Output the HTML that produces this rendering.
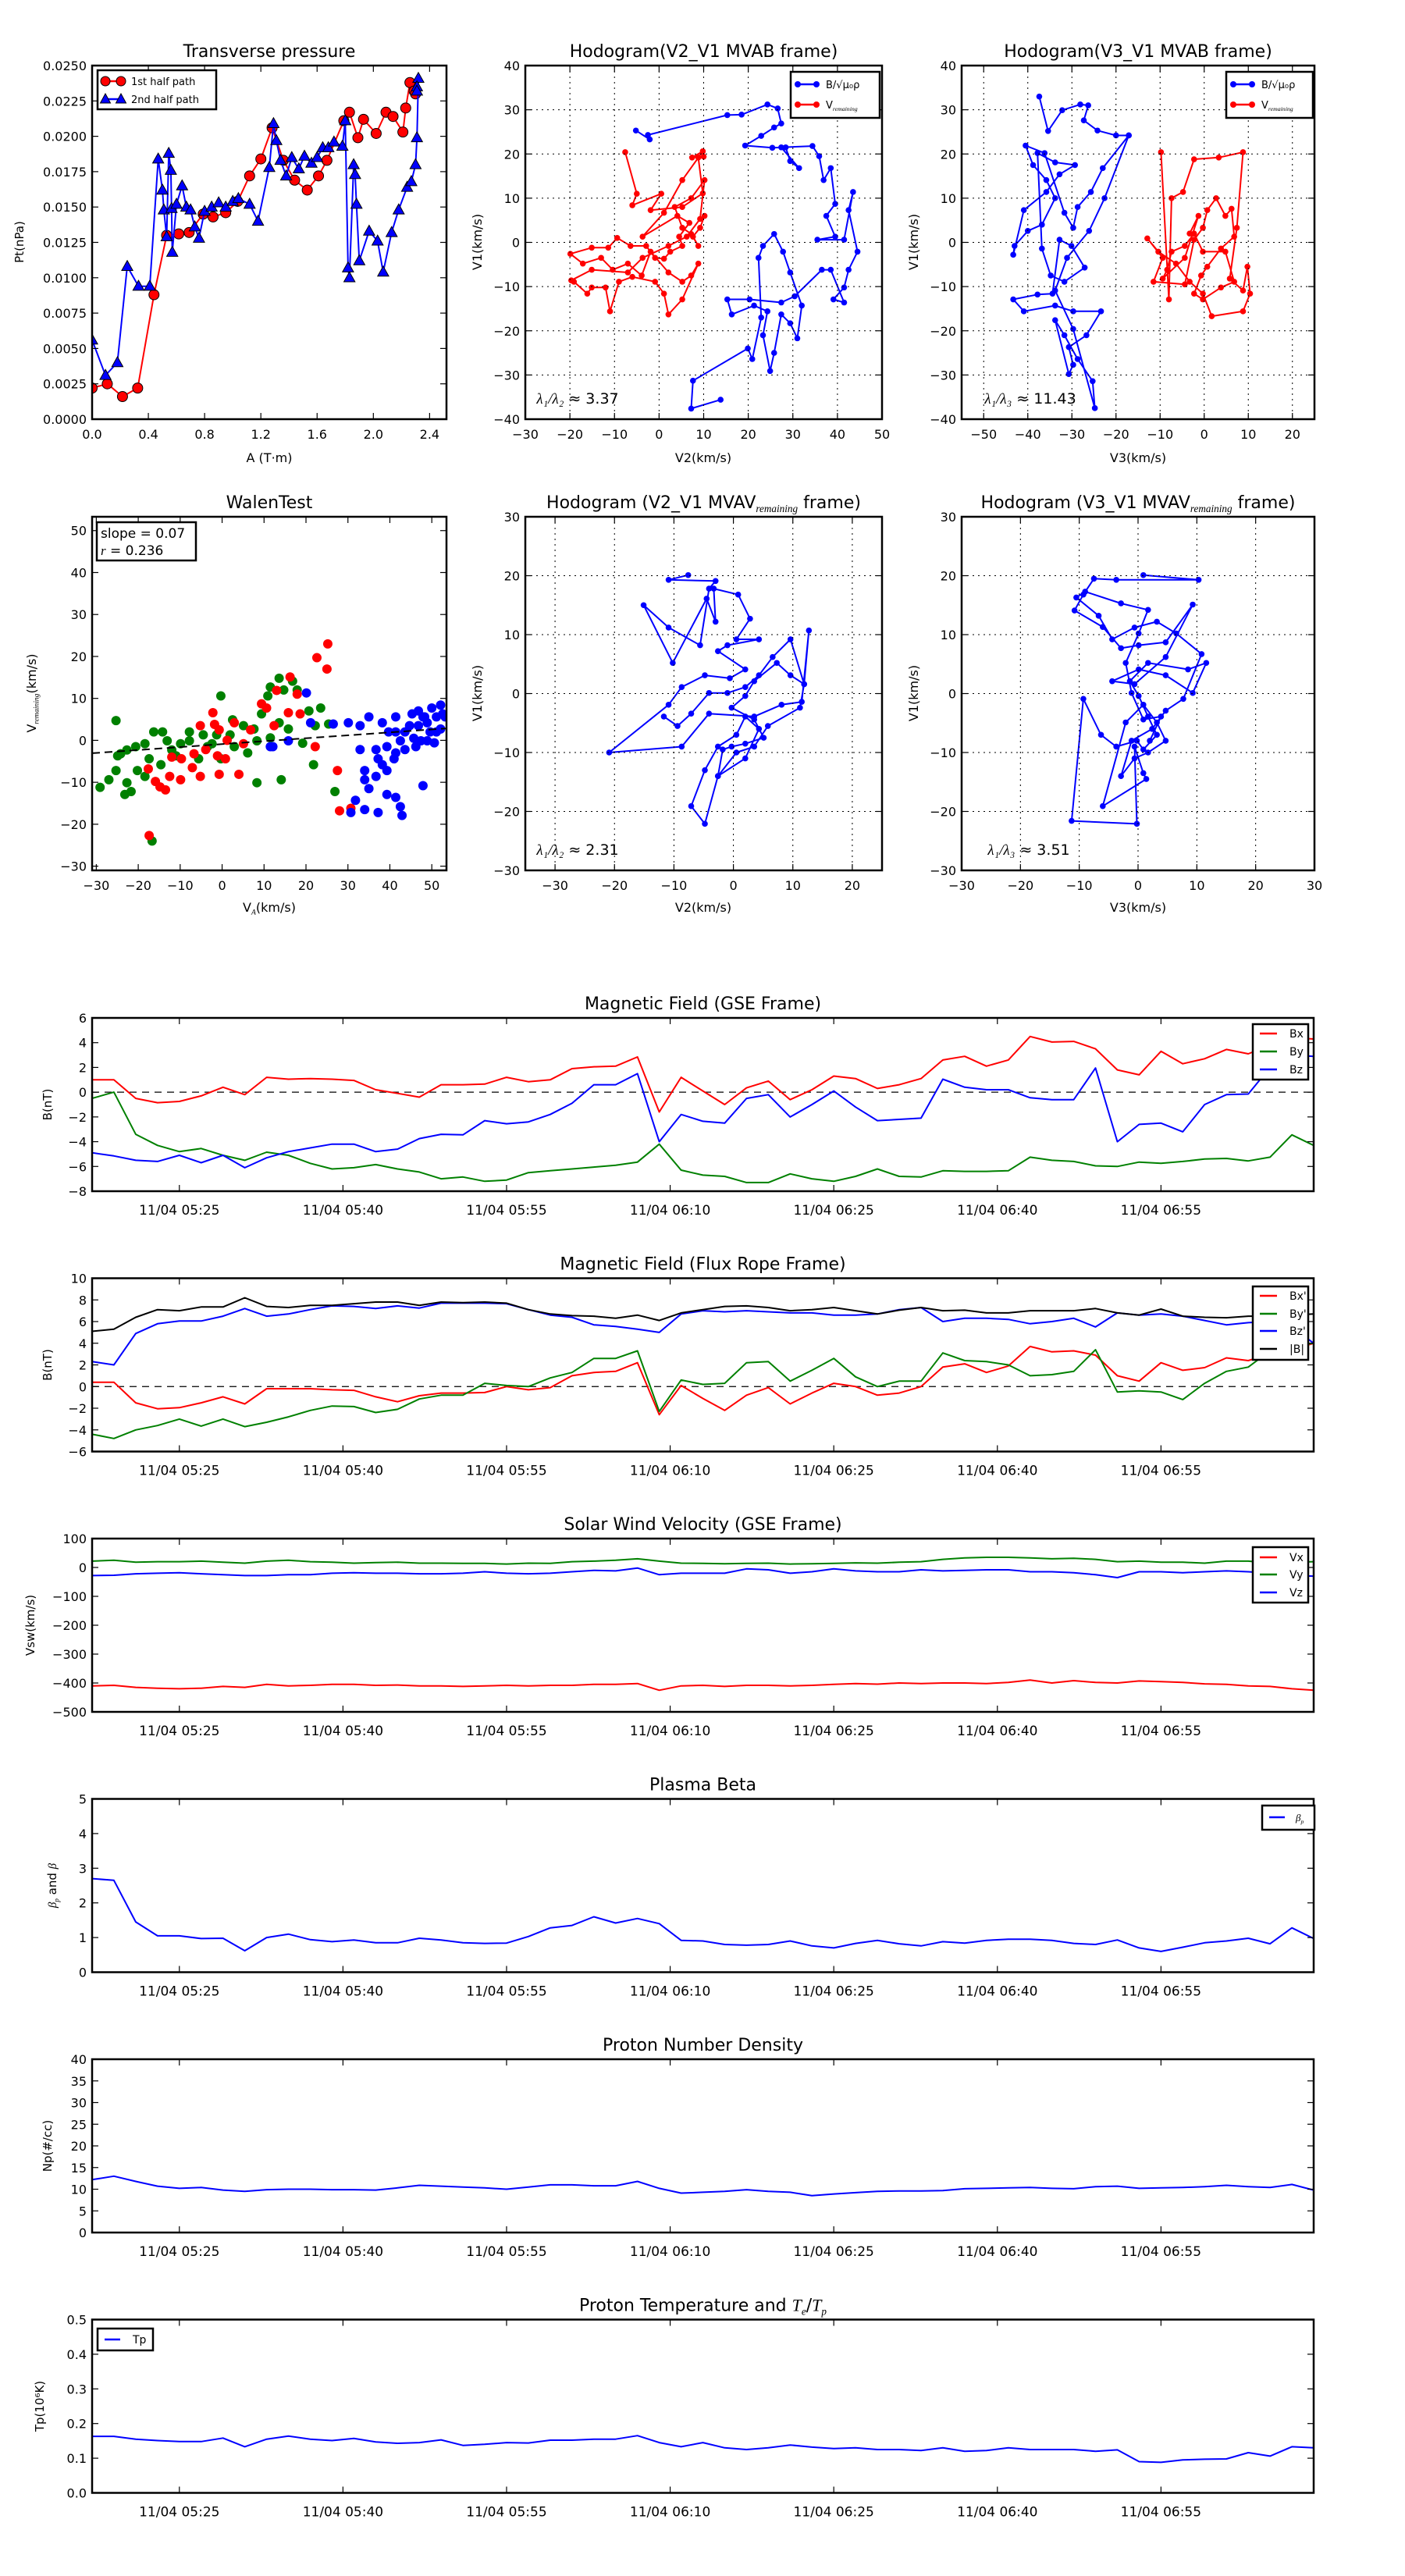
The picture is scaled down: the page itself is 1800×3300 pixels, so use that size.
<!DOCTYPE html>
<html><head><meta charset="utf-8"><title>Flux rope analysis</title>
<style>
html,body{margin:0;padding:0;background:#fff;}
svg{display:block;font-family:"DejaVu Sans","Liberation Sans",sans-serif;}
</style></head>
<body>
<svg id="fig" width="1800" height="3300" viewBox="0 0 1800 3300" xmlns="http://www.w3.org/2000/svg">
<rect x="0" y="0" width="1800" height="3300" fill="#fff"/>
<defs id="defs"></defs>
</svg>
<script>
// ---------- Data ----------
// Transverse pressure
const ptRedA=[0,0.108,0.216,0.324,0.44,0.53,0.616,0.69,0.79,0.86,0.95,1.035,1.12,1.2,1.28,1.36,1.44,1.53,1.61,1.67,1.79,1.83,1.89,1.93,2.02,2.09,2.14,2.21,2.23,2.26,2.29,2.30];
const ptRedP=[0.0022,0.0025,0.0016,0.0022,0.0088,0.0130,0.0131,0.0132,0.0145,0.0143,0.0146,0.0154,0.0172,0.0184,0.0206,0.0183,0.0169,0.0162,0.0172,0.0183,0.0211,0.0217,0.0199,0.0212,0.0202,0.0217,0.0214,0.0203,0.0220,0.0238,0.0232,0.0230];
const ptBlueA=[0,0.095,0.18,0.25,0.33,0.41,0.47,0.50,0.51,0.53,0.545,0.56,0.565,0.57,0.60,0.64,0.67,0.70,0.73,0.76,0.80,0.85,0.90,0.95,1.00,1.04,1.12,1.18,1.26,1.29,1.31,1.34,1.38,1.42,1.47,1.51,1.56,1.60,1.64,1.68,1.72,1.78,1.80,1.82,1.83,1.86,1.87,1.88,1.90,1.97,2.03,2.07,2.13,2.18,2.24,2.27,2.30,2.31,2.32,2.31,2.31];
const ptBlueP=[0.0056,0.0031,0.0040,0.0108,0.0094,0.0094,0.0184,0.0162,0.0148,0.0129,0.0188,0.0176,0.0149,0.0118,0.0152,0.0165,0.0150,0.0148,0.0136,0.0128,0.0147,0.0150,0.0153,0.0150,0.0154,0.0156,0.0152,0.0140,0.0178,0.0209,0.0197,0.0183,0.0172,0.0185,0.0177,0.0186,0.0181,0.0185,0.0192,0.0192,0.0196,0.0193,0.0211,0.0107,0.0100,0.0180,0.0173,0.0152,0.0112,0.0133,0.0126,0.0104,0.0132,0.0148,0.0164,0.0168,0.0180,0.0199,0.0241,0.0235,0.0232];
// Hodogram V2-V1 MVAB
const h1RedV2=[-7.6,-5.0,-6.0,0.5,-1.9,5.2,9.8,8.8,10.0,7.4,9.8,5.2,1.1,-3.7,4.1,6.8,4.5,5.2,2.5,1.1,-0.9,-2.9,-6.4,-9.4,-11.4,-15.1,-19.9,-17.1,-13.0,-10.4,-7.0,-3.9,-1.9,2.1,5.2,7.2,8.8,5.2,2.1,1.1,-0.9,-6.0,-9.0,-11.0,-12.0,-15.1,-16.1,-19.1,-19.7,-15.1,-7.0,-3.7,2.1,6.2,9.2,10.2,7.2,3.5,5.2,7.2,8.8,7.6,9.2,10.2];
const h1RedV1=[20.4,11.0,8.4,11.0,7.3,8.0,11.1,19.2,19.4,19.2,20.6,14.1,6.7,1.3,6.0,4.4,1.3,-0.8,-2.1,-3.7,-3.5,-0.8,-0.8,1.0,-1.2,-1.2,-2.6,-4.8,-3.5,-6.2,-4.8,-7.5,-2.1,-6.8,-8.9,-7.5,-4.8,-12.9,-16.3,-11.6,-8.9,-7.8,-8.9,-15.6,-10.2,-10.2,-11.6,-8.9,-8.6,-6.2,-6.8,-3.5,-0.8,1.3,5.3,14.1,10.0,8.0,3.3,1.9,-0.8,1.3,3.3,6.0];
const h1BlueV2=[-5.2,-2.1,-2.5,15.3,18.5,24.3,26.6,27.4,25.8,22.9,19.3,25.4,28.4,29.4,31.4,27.4,34.4,35.9,36.9,38.5,39.5,37.5,39.5,35.5,41.5,43.5,42.5,44.5,42.5,41.5,39.1,41.5,38.5,36.5,30.4,27.4,20.3,15.3,16.3,21.3,24.3,23.3,24.9,25.8,27.4,29.4,31.0,32.0,29.4,27.8,25.8,23.3,22.3,22.9,20.9,19.9,7.6,7.2,13.8];
const h1BlueV1=[25.3,23.3,24.3,28.8,28.9,31.2,30.3,26.9,26.0,24.1,21.9,21.4,21.5,18.4,16.8,21.5,21.8,19.5,14.1,16.8,8.7,6.0,1.3,0.6,0.6,11.4,7.3,-2.1,-6.2,-10.2,-12.9,-13.6,-6.2,-6.2,-12.2,-13.6,-12.9,-12.9,-16.3,-14.3,-15.6,-21.0,-29.1,-25.0,-16.3,-18.3,-21.7,-14.3,-6.8,-2.1,1.9,-0.8,-3.5,-17.0,-26.4,-24.0,-31.3,-37.6,-35.6];
// Hodogram V3-V1 MVAB
const h2BlueV3=[-37.4,-35.4,-32.2,-28.1,-26.3,-27.3,-24.2,-20.0,-17.1,-23.0,-25.7,-28.7,-29.7,-31.7,-36.2,-40.5,-38.8,-35.8,-33.8,-36.8,-40.0,-43.0,-43.3,-40.9,-35.8,-32.8,-29.3,-33.8,-37.8,-36.8,-34.8,-31.7,-27.1,-30.1,-32.8,-34.4,-37.8,-43.3,-40.9,-33.8,-29.7,-23.4,-26.7,-30.7,-29.7,-30.7,-33.8,-31.7,-28.7,-25.3,-24.8,-29.7,-33.8,-31.1,-26.1,-22.6,-17.1];
const h2BlueV1=[33.0,25.2,29.9,31.2,31.0,27.6,25.3,24.2,24.2,16.8,11.4,8.0,3.3,6.7,20.2,21.9,17.5,14.1,10.0,4.0,2.6,-0.8,-2.8,7.3,11.4,15.4,17.5,18.1,20.2,-1.4,-7.5,-8.9,-5.7,-0.8,0.6,-11.6,-11.8,-12.9,-15.6,-14.3,-15.6,-15.6,-21.0,-23.7,-27.7,-29.8,-17.6,-21.0,-26.4,-31.4,-37.5,-19.6,-10.9,-3.5,2.6,10.0,24.2];
const h2RedV3=[-9.8,-8.0,-7.4,-4.8,-2.3,3.3,8.8,7.4,5.8,8.8,9.8,10.4,8.8,1.7,-0.3,-3.3,-6.4,-10.4,-12.9,-9.4,-11.5,-4.4,-2.3,-0.3,0.7,2.7,4.8,6.2,6.8,3.8,0.7,-0.7,-2.3,-0.3,3.8,6.8,4.8,-0.3,-2.3,-4.4,-7.4,-8.4,-9.4,-4.4,-1.3,-3.3];
const h2RedV1=[20.4,-12.9,10.0,11.4,18.8,19.2,20.4,3.3,-8.2,-10.9,-5.5,-11.6,-15.6,-16.7,-11.6,-8.9,-4.8,-2.1,0.9,-3.5,-8.9,-9.5,0.6,3.3,7.3,10.0,6.0,7.6,1.3,-1.4,-5.5,-7.5,-11.6,-12.9,-10.2,-8.9,-2.1,-2.1,2.0,-0.8,-2.1,-6.2,-8.2,-3.5,6.0,2.0];
// Walen test
const walenRedVA=[25.2,22.6,25.0,16.2,13.0,17.9,9.4,15.8,-2.2,-5.2,-0.7,2.9,6.8,-3.9,-6.7,-1.1,-9.7,-12.0,-7.1,-0.7,4.0,-5.2,-12.5,-15.9,-13.5,-14.8,-17.6,-9.9,27.5,28.0,30.7,-17.4,-1.8,1.2,10.6,12.4,18.6,22.2,5.1,0.8];
const walenRedV=[23.0,19.7,17.0,15.1,11.9,11.0,8.7,6.6,6.6,3.5,2.5,4.2,2.5,-2.2,-3.2,-3.7,-4.4,-4.0,-6.5,-8.1,-8.1,-8.6,-8.6,-9.8,-11.8,-11.1,-6.8,-9.4,-7.2,-16.8,-16.2,-22.7,3.8,0.0,7.7,3.5,6.3,-1.5,-0.8,-4.4];
const walenGreenVA=[-25.3,-24.9,-24.2,-25.3,-27.0,-29.1,-22.7,-23.2,-21.7,-20.2,-18.4,-16.3,-14.2,-13.1,-11.0,-9.9,-7.8,-4.5,-0.3,-1.3,1.9,2.5,5.1,7.6,9.4,10.9,11.5,13.6,14.7,16.8,17.9,20.7,23.5,25.4,22.2,19.2,21.8,14.1,8.3,26.9,-16.7,-14.6,-17.4,-20.6,-18.4,-7.8,-3.5,-5.6,-0.3,2.9,6.1,11.5,8.3,13.6,15.8,-22.7,-12.0,-2.4];
const walenGreenV=[4.7,-3.7,-3.2,-7.2,-9.4,-11.2,-10.1,-12.9,-12.2,-7.2,-0.8,2.0,2.0,-0.1,-3.7,-0.8,2.0,1.3,10.6,1.3,1.3,4.9,3.5,2.7,6.3,10.6,12.7,14.8,12.0,14.1,12.0,7.0,7.7,3.9,3.5,-0.7,-5.8,-9.4,-10.1,-12.2,-24.0,-5.8,-4.4,-1.5,-8.6,-0.1,-1.5,-4.4,-4.4,-1.5,-3.0,0.6,-0.1,4.2,2.7,-2.3,-2.3,-0.8];
const walenBlueVA=[20.1,12.1,15.8,21.1,26.5,30.1,32.9,35.0,38.2,39.7,41.4,43.6,45.3,46.8,48.3,50.0,52.1,53.2,51.1,48.9,46.2,43.6,41.4,39.3,37.2,38.2,39.3,36.7,34.0,34.0,35.0,39.3,41.4,42.5,42.9,47.9,47.4,50.6,52.1,49.6,45.7,44.7,48.9,51.1,46.8,42.5,41.0,36.7,32.9,31.8,34.0,37.2,30.7,11.5,41.4,52.6,47.9];
const walenBlueV=[11.3,-1.5,-0.1,4.2,3.9,4.2,3.5,5.6,4.2,2.0,5.6,2.0,6.3,7.0,5.6,7.7,8.4,5.6,2.0,-0.1,-1.5,-2.2,-3.0,-1.5,-4.4,-5.8,-7.2,-8.6,-7.2,-9.4,-11.5,-12.9,-13.6,-15.8,-17.9,-10.8,-0.1,-0.6,2.7,2.0,0.5,3.5,4.2,5.6,3.5,-0.1,-4.4,-2.2,-2.2,-14.3,-16.5,-17.2,-17.2,-1.5,2.0,6.3,5.6];
const walenSlope=0.07, walenIntercept=-0.9;
// MVAV hodograms
const h3V2=[-7.6,-10.9,-3.0,-4.1,-5.6,-10.9,-15.1,-10.2,-4.5,-3.0,-3.3,0.8,2.8,0.5,4.3,-1.0,-2.6,2.0,-0.6,-4.8,-8.7,-10.9,-20.9,-8.7,-4.1,3.5,8.1,11.5,12.7,11.9,9.6,7.3,3.5,2.0,-0.3,3.5,5.1,2.0,-0.3,-1.8,-2.6,2.0,4.3,2.0,0.5,-2.6,-4.8,-7.1,-4.8,-2.6,0.5,3.5,5.8,11.2,11.9,9.6,6.6,4.3,2.0,-1.0,-4.1,-7.1,-9.4,-11.7];
const h3V1=[20.1,19.3,19.1,17.8,8.2,11.2,15.0,5.2,16.1,12.2,17.8,16.8,12.7,9.2,9.2,8.2,7.2,4.1,2.6,3.1,1.1,-1.9,-10.0,-9.0,-3.4,-3.9,-1.9,-1.4,10.7,1.6,3.1,5.2,2.1,-0.4,-2.4,-4.4,-7.5,-8.5,-9.0,-9.5,-14.0,-11.0,-6.0,-3.9,-7.0,-9.0,-13.0,-19.1,-22.1,-14.0,-10.0,-9.0,-5.5,-2.4,1.6,9.2,6.2,3.1,1.1,0.1,0.1,-3.4,-5.5,-3.9];
const h4V3=[0.9,10.3,-3.7,-7.5,-9.3,-10.8,-6.0,-2.9,0.1,4.7,9.3,4.7,-0.6,-4.4,0.1,4.7,9.3,11.6,8.5,1.7,-1.4,0.1,1.7,3.2,0.9,-0.2,-3.7,-6.3,-9.3,-11.3,-0.2,-0.6,0.9,1.4,-6.0,-2.1,0.9,3.2,4.7,1.7,-0.6,-2.9,-1.1,2.4,4.7,7.7,10.8,6.5,3.2,-0.6,-4.4,-6.7,-10.5,-9.0,-2.9,1.7,0.1,-2.1,-1.1,0.9,3.9,2.0];
const h4V1=[20.1,19.3,19.3,19.5,16.8,14.1,11.3,7.7,8.2,8.7,15.1,6.2,1.6,2.1,4.1,3.1,0.1,5.2,4.1,5.2,2.1,-0.4,-3.9,-7.0,-9.5,-8.0,-9.0,-7.0,-0.9,-21.6,-22.1,-9.0,-13.5,-14.5,-19.1,-4.9,-1.9,-4.9,-8.0,-10.0,-11.0,-14.0,-8.0,-6.0,-2.9,-0.9,6.7,10.2,12.2,11.2,9.2,13.2,16.3,17.3,15.3,14.2,10.2,5.2,0.1,-4.4,-3.9,-8.0];
// Time series: minutes after 05:17
const minutes=[0,2,4,6,8,10,12,14,16,18,20,22,24,26,28,30,32,34,36,38,40,42,44,46,48,50,52,54,56,58,60,62,64,66,68,70,72,74,76,78,80,82,84,86,88,90,92,94,96,98,100,102,104,106,108,110,112];
const timeTicks=[8,23,38,53,68,83,98];
const timeTickLabels=['11/04 05:25','11/04 05:40','11/04 05:55','11/04 06:10','11/04 06:25','11/04 06:40','11/04 06:55'];
const gseBx=[1.0,1.0,-0.5,-0.85,-0.75,-0.3,0.4,-0.2,1.2,1.05,1.1,1.05,0.95,0.2,-0.1,-0.4,0.6,0.6,0.65,1.2,0.85,1.0,1.9,2.05,2.1,2.85,-1.6,1.2,0.1,-1.0,0.35,0.9,-0.6,0.2,1.3,1.1,0.3,0.6,1.1,2.6,2.9,2.1,2.6,4.5,4.05,4.1,3.5,1.8,1.4,3.3,2.3,2.7,3.45,3.1,3.8,4.4,4.3];
const gseBy=[-0.5,0,-3.4,-4.3,-4.8,-4.55,-5.1,-5.5,-4.85,-5.1,-5.75,-6.2,-6.1,-5.85,-6.2,-6.45,-7.0,-6.85,-7.2,-7.1,-6.5,-6.35,-6.2,-6.05,-5.9,-5.65,-4.2,-6.3,-6.7,-6.8,-7.3,-7.3,-6.6,-7.0,-7.2,-6.8,-6.2,-6.8,-6.85,-6.35,-6.4,-6.4,-6.35,-5.25,-5.5,-5.6,-5.95,-6.0,-5.65,-5.75,-5.6,-5.4,-5.35,-5.55,-5.25,-3.45,-4.3];
const gseBz=[-4.9,-5.15,-5.5,-5.6,-5.1,-5.7,-5.1,-6.1,-5.3,-4.8,-4.5,-4.2,-4.2,-4.8,-4.6,-3.75,-3.4,-3.45,-2.3,-2.55,-2.4,-1.8,-0.9,0.6,0.6,1.5,-4.0,-1.8,-2.35,-2.5,-0.5,-0.2,-2.0,-1.0,0.1,-1.2,-2.3,-2.2,-2.1,1.05,0.4,0.2,0.2,-0.45,-0.6,-0.6,1.95,-4.0,-2.6,-2.5,-3.2,-1.0,-0.2,-0.15,2.0,3.0,2.9];
const frBx=[0.4,0.4,-1.5,-2.05,-1.95,-1.5,-0.95,-1.6,-0.2,-0.2,-0.2,-0.3,-0.35,-0.95,-1.4,-0.85,-0.6,-0.6,-0.55,0,-0.3,-0.1,1.0,1.3,1.4,2.2,-2.6,0.1,-1.1,-2.2,-0.8,-0.1,-1.6,-0.6,0.3,0,-0.8,-0.6,0,1.8,2.1,1.3,1.9,3.7,3.2,3.3,2.9,1.0,0.5,2.2,1.5,1.75,2.65,2.4,3.0,3.4,4.0];
const frBy=[-4.4,-4.8,-4.0,-3.6,-3.0,-3.65,-3.0,-3.7,-3.3,-2.8,-2.2,-1.8,-1.85,-2.4,-2.1,-1.15,-0.8,-0.8,0.3,0.1,0,0.8,1.3,2.6,2.6,3.3,-2.3,0.6,0.2,0.3,2.2,2.3,0.5,1.5,2.6,0.9,0,0.5,0.5,3.1,2.4,2.3,2.0,1.0,1.1,1.4,3.4,-0.5,-0.4,-0.5,-1.2,0.3,1.4,1.8,3.3,3.8,4.0];
const frBz=[2.3,2.0,4.9,5.8,6.05,6.05,6.5,7.2,6.5,6.7,7.1,7.45,7.4,7.2,7.45,7.25,7.7,7.7,7.7,7.65,7.1,6.6,6.4,5.7,5.55,5.3,5.0,6.7,7.0,6.9,7.0,6.9,6.8,6.8,6.6,6.6,6.7,7.1,7.3,6.0,6.3,6.3,6.2,5.8,6.0,6.3,5.5,6.8,6.6,6.7,6.5,6.1,5.7,5.9,6.0,5.5,4.0];
const frBt=[5.1,5.3,6.4,7.1,7.0,7.35,7.35,8.2,7.4,7.3,7.5,7.5,7.65,7.8,7.8,7.5,7.8,7.75,7.8,7.7,7.1,6.7,6.55,6.5,6.3,6.6,6.1,6.8,7.1,7.4,7.45,7.3,7.0,7.1,7.3,7.0,6.7,7.05,7.3,7.0,7.05,6.8,6.8,7.0,7.0,7.0,7.2,6.8,6.6,7.15,6.5,6.4,6.35,6.5,6.5,6.6,6.7];
const vswX=[-410,-408,-415,-418,-420,-418,-412,-415,-405,-410,-408,-405,-405,-408,-407,-410,-410,-412,-410,-408,-410,-408,-408,-405,-405,-402,-425,-410,-408,-412,-408,-408,-410,-408,-405,-402,-404,-400,-402,-400,-400,-402,-398,-390,-400,-392,-398,-400,-393,-395,-398,-403,-405,-410,-412,-420,-425];
const vswY=[22,25,18,20,20,22,18,15,22,25,20,18,15,17,18,15,15,14,14,12,15,14,20,22,25,30,22,15,14,13,14,15,12,13,14,16,15,18,20,28,33,35,35,33,30,32,28,20,22,18,18,15,22,22,15,18,20];
const vswZ=[-28,-27,-22,-20,-18,-22,-25,-28,-28,-25,-25,-20,-18,-20,-20,-22,-22,-20,-15,-20,-22,-20,-15,-10,-12,-2,-25,-20,-20,-20,-5,-8,-20,-15,-5,-12,-15,-15,-8,-12,-10,-8,-8,-15,-15,-18,-25,-35,-15,-15,-18,-15,-12,-15,-20,-28,-30];
const betaP=[2.7,2.65,1.45,1.05,1.05,0.97,0.98,0.62,1.0,1.1,0.94,0.88,0.93,0.85,0.85,0.98,0.93,0.85,0.83,0.84,1.03,1.28,1.35,1.6,1.42,1.55,1.4,0.92,0.9,0.8,0.78,0.8,0.9,0.76,0.7,0.83,0.92,0.82,0.76,0.88,0.84,0.92,0.95,0.95,0.92,0.83,0.8,0.93,0.7,0.6,0.72,0.85,0.9,0.98,0.82,1.28,0.97];
const densNp=[12.2,13.0,11.8,10.7,10.2,10.4,9.8,9.5,9.9,10.0,10.0,9.9,9.9,9.8,10.3,10.9,10.7,10.5,10.3,10.0,10.5,11.0,11.0,10.8,10.8,11.8,10.2,9.1,9.3,9.5,9.9,9.5,9.3,8.5,8.9,9.2,9.5,9.6,9.6,9.7,10.1,10.2,10.3,10.4,10.2,10.1,10.6,10.7,10.2,10.3,10.4,10.6,10.9,10.6,10.4,11.1,9.8];
const tempTp=[0.163,0.163,0.155,0.151,0.148,0.148,0.158,0.133,0.155,0.164,0.155,0.151,0.157,0.147,0.143,0.145,0.153,0.137,0.14,0.145,0.144,0.152,0.152,0.155,0.155,0.165,0.145,0.133,0.145,0.13,0.125,0.13,0.138,0.132,0.128,0.13,0.125,0.125,0.122,0.13,0.12,0.122,0.13,0.125,0.125,0.125,0.12,0.124,0.09,0.088,0.095,0.097,0.098,0.116,0.106,0.133,0.13];

// ---------- Helpers ----------
const NS='http://www.w3.org/2000/svg';
const svg=document.getElementById('fig');
const defs=document.getElementById('defs');
const MINUS='\u2212';
function mk(tag,attrs,parent){const e=document.createElementNS(NS,tag);for(const k in attrs)e.setAttribute(k,attrs[k]);(parent||svg).appendChild(e);return e;}
function fmt(v,d){const s=Math.abs(v).toFixed(d);return (v<-1e-12?MINUS:'')+s;}
function range(a,b,s){const r=[];for(let v=a;v<=b+s*1e-6;v+=s)r.push(Math.round(v/s)*s);return r;}
let clipId=0;
function panel(name,x0,y0,w,h,xd,yd){
  const g=mk('g',{});
  
  
  const id='clip'+(clipId++);
  const cp=mk('clipPath',{id:id},defs);
  mk('rect',{x:x0,y:y0,width:w,height:h},cp);
  const data=mk('g',{'clip-path':'url(#'+id+')'},g);
  
  
  return {g,data,x0,y0,w,h,sx:v=>x0+(v-xd[0])/(xd[1]-xd[0])*w,sy:v=>y0+h-(v-yd[0])/(yd[1]-yd[0])*h};
}
function axes(p,xt,xl,yt,yl,grid,xfs){
  const ax=mk('g',{},p.g);
  
  
  xt.forEach((v,i)=>{const x=p.sx(v);
    if(grid){const gl=mk('line',{x1:x,x2:x,y1:p.y0,y2:p.y0+p.h,stroke:'#000','stroke-width':1,'stroke-dasharray':'2,5'},ax);}
    mk('line',{x1:x,x2:x,y1:p.y0,y2:p.y0+8,stroke:'#000','stroke-width':1.2},ax);
    mk('line',{x1:x,x2:x,y1:p.y0+p.h,y2:p.y0+p.h-8,stroke:'#000','stroke-width':1.2},ax);
    const t=mk('text',{x:x,y:p.y0+p.h+(xfs?30:25),'font-size':xfs||16,'text-anchor':'middle',fill:'#000'},ax);
    t.textContent=xl[i];
    
    
  });
  yt.forEach((v,i)=>{const y=p.sy(v);
    if(grid){const gl=mk('line',{x1:p.x0,x2:p.x0+p.w,y1:y,y2:y,stroke:'#000','stroke-width':1,'stroke-dasharray':'2,5'},ax);}
    mk('line',{x1:p.x0,x2:p.x0+8,y1:y,y2:y,stroke:'#000','stroke-width':1.2},ax);
    mk('line',{x1:p.x0+p.w,x2:p.x0+p.w-8,y1:y,y2:y,stroke:'#000','stroke-width':1.2},ax);
    const t=mk('text',{x:p.x0-7,y:y+6,'font-size':16,'text-anchor':'end',fill:'#000'},ax);
    t.textContent=yl[i];
    
    
  });
}
function frame(p){const r=mk('rect',{x:p.x0,y:p.y0,width:p.w,height:p.h,fill:'none',stroke:'#000','stroke-width':2.5},p.g);
  
  }
function title(p,parts,fs){const t=mk('text',{x:p.x0+p.w/2,y:p.y0-11,'font-size':fs||22,'text-anchor':'middle',fill:'#000'},p.g);
  addParts(t,parts,fs||22);
  
  }
function addParts(t,parts,fs){parts.forEach(pt=>{const s=mk('tspan',{},t);s.textContent=pt.t;
  if(pt.sub){s.setAttribute('font-size',fs*0.6);s.setAttribute('font-style','italic');s.setAttribute('font-family','"Liberation Serif",serif');s.setAttribute('dy',fs*0.22);}
  else if(pt.after){s.setAttribute('dy',-fs*0.22);}
  if(pt.it){s.setAttribute('font-style','italic');s.setAttribute('font-family','"Liberation Serif",serif');}});}
function label(x,y,parts,fs,rot,name){const t=mk('text',{x:x,y:y,'font-size':fs,'text-anchor':'middle',fill:'#000'});
  if(rot)t.setAttribute('transform','rotate(-90 '+x+' '+y+')');
  addParts(t,parts,fs);
  
  return t;}
function series(p,xs,ys,color,w,name,marker,r){
  let d='';xs.forEach((x,i)=>{d+=(i?'L':'M')+p.sx(x).toFixed(1)+' '+p.sy(ys[i]).toFixed(1);});
  const path=mk('path',{d:d,fill:'none',stroke:color,'stroke-width':w,'stroke-linejoin':'round'},p.data);
  
  
  if(marker){xs.forEach((x,i)=>{
    const cx=p.sx(x),cy=p.sy(ys[i]);let m;
    if(marker==='tri'){m=mk('polygon',{points:cx+','+(cy-r)+' '+(cx-r*0.95)+','+(cy+r*0.7)+' '+(cx+r*0.95)+','+(cy+r*0.7),fill:color,stroke:'#000','stroke-width':1},p.data);}
    else if(marker==='circ'){m=mk('circle',{cx:cx,cy:cy,r:r,fill:color,stroke:'#000','stroke-width':1},p.data);}
    else {m=mk('circle',{cx:cx,cy:cy,r:r,fill:color},p.data);}
    
    });}
}
function scatter(p,xs,ys,color,name){xs.forEach((x,i)=>{const c=mk('circle',{cx:p.sx(x),cy:p.sy(ys[i]),r:6,fill:color},p.data);
  
  });}
function legend(x,y,w,h,entries,fs,lx1,lx2,tx,rowY,name){
  const g=mk('g',{});
  
  
  mk('rect',{x:x,y:y,width:w,height:h,fill:'#fff',stroke:'#000','stroke-width':2.5},g);
  entries.forEach((e,i)=>{const yy=rowY[i];
    const eg=mk('g',{},g);
    
    
    mk('line',{x1:lx1,x2:lx2,y1:yy,y2:yy,stroke:e.c,'stroke-width':2.5},eg);
    if(e.m==='circ'){mk('circle',{cx:lx1,cy:yy,r:6,fill:e.c,stroke:'#000'},eg);mk('circle',{cx:lx2,cy:yy,r:6,fill:e.c,stroke:'#000'},eg);}
    if(e.m==='tri'){[lx1,lx2].forEach(cx=>mk('polygon',{points:cx+','+(yy-7)+' '+(cx-6.5)+','+(yy+5)+' '+(cx+6.5)+','+(yy+5),fill:e.c,stroke:'#000'},eg));}
    if(e.m==='dot'){mk('circle',{cx:lx1,cy:yy,r:4,fill:e.c},eg);mk('circle',{cx:lx2,cy:yy,r:4,fill:e.c},eg);}
    const t=mk('text',{x:tx,y:yy+5,'font-size':fs,fill:'#000'},eg);addParts(t,e.l,fs);});
}

// ---------- Panel 1: Transverse pressure ----------
const p1=panel('transverse-pressure-chart',118,84,454,453,[0,2.52],[0,0.025]);
series(p1,ptRedA,ptRedP,'#ff0000',2,'first-half-path','circ',6.5);
series(p1,ptBlueA,ptBlueP,'#0000ff',2,'second-half-path','tri',7.5);
axes(p1,range(0,2.4,0.4),range(0,2.4,0.4).map(v=>v.toFixed(1)),range(0,0.025,0.0025),range(0,0.025,0.0025).map(v=>v.toFixed(4)));
frame(p1);title(p1,[{t:'Transverse pressure'}]);
legend(125,90,152,50,[{c:'#ff0000',m:'circ',l:[{t:'1st half path'}]},{c:'#0000ff',m:'tri',l:[{t:'2nd half path'}]}],13,135,155,168,[104,127],'pressure-legend');
label(592-254+0,592,[{t:'A (T\u00b7m)'}],16,false,'x-axis-title').setAttribute('x',345);
label(30,310,[{t:'Pt(nPa)'}],15,true,'y-axis-title');

// ---------- Panel 2: Hodogram V2-V1 MVAB ----------
const p2=panel('hodogram-v2-v1-mvab',673,84,457,453,[-30,50],[-40,40]);
axes(p2,range(-30,50,10),range(-30,50,10).map(v=>fmt(v,0)),range(-40,40,10),range(-40,40,10).map(v=>fmt(v,0)),true);
series(p2,h1BlueV2,h1BlueV1,'#0000ff',2,'b-alfven-v2','dot',3.8);
series(p2,h1RedV2,h1RedV1,'#ff0000',2,'v-remaining-v2','dot',3.8);
frame(p2);title(p2,[{t:'Hodogram(V2_V1 MVAB frame)'}]);
legend(1013,92,114,59,[{c:'#0000ff',m:'dot',l:[{t:'B/\u221a\u03bc\u2080\u03c1'}]},{c:'#ff0000',m:'dot',l:[{t:'V'},{t:'remaining',sub:true}]}],13,1022,1046,1058,[108,134],'hodogram1-legend');
label(901,592,[{t:'V2(km/s)'}],16,false,'x-axis-title');
label(617,310,[{t:'V1(km/s)'}],16,true,'y-axis-title');
label(740,517,[{t:'\u03bb\u2081/\u03bb\u2082',it:true},{t:' \u2248 3.37'}],19,false,'eigenvalue-ratio');

// ---------- Panel 3: Hodogram V3-V1 MVAB ----------
const p3=panel('hodogram-v3-v1-mvab',1232,84,452,453,[-55,25],[-40,40]);
axes(p3,range(-50,20,10),range(-50,20,10).map(v=>fmt(v,0)),range(-40,40,10),range(-40,40,10).map(v=>fmt(v,0)),true);
series(p3,h2BlueV3,h2BlueV1,'#0000ff',2,'b-alfven-v3','dot',3.8);
series(p3,h2RedV3,h2RedV1,'#ff0000',2,'v-remaining-v3','dot',3.8);
frame(p3);title(p3,[{t:'Hodogram(V3_V1 MVAB frame)'}]);
legend(1571,92,111,59,[{c:'#0000ff',m:'dot',l:[{t:'B/\u221a\u03bc\u2080\u03c1'}]},{c:'#ff0000',m:'dot',l:[{t:'V'},{t:'remaining',sub:true}]}],13,1580,1604,1616,[108,134],'hodogram2-legend');
label(1458,592,[{t:'V3(km/s)'}],16,false,'x-axis-title');
label(1176,310,[{t:'V1(km/s)'}],16,true,'y-axis-title');
label(1320,517,[{t:'\u03bb\u2081/\u03bb\u2083',it:true},{t:' \u2248 11.43'}],19,false,'eigenvalue-ratio');

// ---------- Panel 4: Walen test ----------
const p4=panel('walen-test-chart',118,662,454,453,[-31,53.5],[-31,53.3]);
scatter(p4,walenGreenVA,walenGreenV,'#008000','walen-point-green');
scatter(p4,walenRedVA,walenRedV,'#ff0000','walen-point-red');
scatter(p4,walenBlueVA,walenBlueV,'#0000ff','walen-point-blue');
const fitX=[-31,53.5];
const fit=mk('line',{x1:p4.sx(fitX[0]),y1:p4.sy(walenSlope*fitX[0]+walenIntercept),x2:p4.sx(fitX[1]),y2:p4.sy(walenSlope*fitX[1]+walenIntercept),stroke:'#000','stroke-width':2,'stroke-dasharray':'10,6'},p4.data);


axes(p4,range(-30,50,10),range(-30,50,10).map(v=>fmt(v,0)),range(-30,50,10),range(-30,50,10).map(v=>fmt(v,0)));
frame(p4);title(p4,[{t:'WalenTest'}]);
const wb=mk('g',{});


mk('rect',{x:124,y:669,width:127,height:49,fill:'#fff',stroke:'#000','stroke-width':2.5},wb);
const wt1=mk('text',{x:129,y:689,'font-size':17,fill:'#000'},wb);wt1.textContent='slope = '+walenSlope.toFixed(2);
const wt2=mk('text',{x:129,y:711,'font-size':17,fill:'#000'},wb);addParts(wt2,[{t:'r',it:true},{t:' = 0.236'}],17);
label(345,1168,[{t:'V'},{t:'A',sub:true},{t:'(km/s)',after:true}],16,false,'x-axis-title');
label(46,888,[{t:'V'},{t:'remaining',sub:true},{t:'(km/s)',after:true}],16,true,'y-axis-title');

// ---------- Panel 5: MVAV V2 ----------
const p5=panel('hodogram-v2-v1-mvav',673,662,457,453,[-35,25],[-30,30]);
axes(p5,range(-30,20,10),range(-30,20,10).map(v=>fmt(v,0)),range(-30,30,10),range(-30,30,10).map(v=>fmt(v,0)),true);
series(p5,h3V2,h3V1,'#0000ff',2,'mvav-v2','dot',3.8);
frame(p5);title(p5,[{t:'Hodogram (V2_V1 MVAV'},{t:'remaining',sub:true},{t:' frame)',after:true}]);
label(901,1168,[{t:'V2(km/s)'}],16,false,'x-axis-title');
label(617,888,[{t:'V1(km/s)'}],16,true,'y-axis-title');
label(740,1095,[{t:'\u03bb\u2081/\u03bb\u2082',it:true},{t:' \u2248 2.31'}],19,false,'eigenvalue-ratio');

// ---------- Panel 6: MVAV V3 ----------
const p6=panel('hodogram-v3-v1-mvav',1232,662,452,453,[-30,30],[-30,30]);
axes(p6,range(-30,30,10),range(-30,30,10).map(v=>fmt(v,0)),range(-30,30,10),range(-30,30,10).map(v=>fmt(v,0)),true);
series(p6,h4V3,h4V1,'#0000ff',2,'mvav-v3','dot',3.8);
frame(p6);title(p6,[{t:'Hodogram (V3_V1 MVAV'},{t:'remaining',sub:true},{t:' frame)',after:true}]);
label(1458,1168,[{t:'V3(km/s)'}],16,false,'x-axis-title');
label(1176,888,[{t:'V1(km/s)'}],16,true,'y-axis-title');
label(1318,1095,[{t:'\u03bb\u2081/\u03bb\u2083',it:true},{t:' \u2248 3.51'}],19,false,'eigenvalue-ratio');

// ---------- Time series ----------
const TX=118,TW=1565,TH=222;
const tops=[1304,1637.5,1971,2304.5,2638,2971.5];
function tpanel(i,name,yd,yt,yl,ttl,ylab,ylx){
  const p=panel(name,TX,tops[i],TW,TH,[0,112],yd);
  axes(p,timeTicks,timeTickLabels,yt,yl,false,17);
  title(p,ttl);
  label(ylx,tops[i]+TH/2,ylab,15,true,'y-axis-title');
  return p;
}
function zeroLine(p){const z=mk('line',{x1:p.x0,x2:p.x0+p.w,y1:p.sy(0),y2:p.sy(0),stroke:'#000','stroke-width':1.3,'stroke-dasharray':'9,7'},p.data);
  
  }

const tA=tpanel(0,'magnetic-field-gse-chart',[-8,6],range(-8,6,2),range(-8,6,2).map(v=>fmt(v,0)),[{t:'Magnetic Field (GSE Frame)'}],[{t:'B(nT)'}],66);
zeroLine(tA);
series(tA,minutes,gseBx,'#ff0000',2,'bx');series(tA,minutes,gseBy,'#008000',2,'by');series(tA,minutes,gseBz,'#0000ff',2,'bz');
frame(tA);
legend(1605,1312,71,71,[{c:'#ff0000',l:[{t:'Bx'}]},{c:'#008000',l:[{t:'By'}]},{c:'#0000ff',l:[{t:'Bz'}]}],14,1614,1636,1652,[1324,1347,1370],'gse-legend');

const tB=tpanel(1,'magnetic-field-flux-rope-chart',[-6,10],range(-6,10,2),range(-6,10,2).map(v=>fmt(v,0)),[{t:'Magnetic Field (Flux Rope Frame)'}],[{t:'B(nT)'}],66);
zeroLine(tB);
series(tB,minutes,frBx,'#ff0000',2,'bx-prime');series(tB,minutes,frBy,'#008000',2,'by-prime');series(tB,minutes,frBz,'#0000ff',2,'bz-prime');series(tB,minutes,frBt,'#000000',2,'b-total');
frame(tB);
legend(1605,1648,71,94,[{c:'#ff0000',l:[{t:"Bx'"}]},{c:'#008000',l:[{t:"By'"}]},{c:'#0000ff',l:[{t:"Bz'"}]},{c:'#000000',l:[{t:'|B|'}]}],14,1614,1636,1652,[1660,1683,1705,1728],'flux-rope-legend');

const tC=tpanel(2,'solar-wind-velocity-chart',[-500,100],range(-500,100,100),range(-500,100,100).map(v=>fmt(v,0)),[{t:'Solar Wind Velocity (GSE Frame)'}],[{t:'Vsw(km/s)'}],44);
series(tC,minutes,vswX,'#ff0000',2,'vx');series(tC,minutes,vswY,'#008000',2,'vy');series(tC,minutes,vswZ,'#0000ff',2,'vz');
frame(tC);
legend(1605,1982,71,71,[{c:'#ff0000',l:[{t:'Vx'}]},{c:'#008000',l:[{t:'Vy'}]},{c:'#0000ff',l:[{t:'Vz'}]}],14,1614,1636,1652,[1995,2017,2040],'velocity-legend');

const tD=tpanel(3,'plasma-beta-chart',[0,5],range(0,5,1),range(0,5,1).map(v=>fmt(v,0)),[{t:'Plasma Beta'}],[{t:'\u03b2',it:true},{t:'p',sub:true},{t:' and ',after:true},{t:'\u03b2',it:true}],72);
series(tD,minutes,betaP,'#0000ff',2,'beta-p');
frame(tD);
legend(1617,2313,67,31,[{c:'#0000ff',l:[{t:'\u03b2',it:true},{t:'p',sub:true}]}],13,1626,1646,1660,[2328],'beta-legend');

const tE=tpanel(4,'proton-density-chart',[0,40],range(0,40,5),range(0,40,5).map(v=>fmt(v,0)),[{t:'Proton Number Density'}],[{t:'Np(#/cc)'}],66);
series(tE,minutes,densNp,'#0000ff',2,'np');
frame(tE);

const tF=tpanel(5,'proton-temperature-chart',[0,0.5],range(0,0.5,0.1),range(0,0.5,0.1).map(v=>v.toFixed(1)),[{t:'Proton Temperature and '},{t:'T',it:true},{t:'e',sub:true},{t:'/',after:true},{t:'T',it:true},{t:'p',sub:true}],[{t:'Tp(10\u2076K)'}],56);
series(tF,minutes,tempTp,'#0000ff',2,'tp');
frame(tF);
legend(125,2983,71,28,[{c:'#0000ff',l:[{t:'Tp'}]}],14,134,154,170,[2997],'tp-legend');
</script>
</body></html>
